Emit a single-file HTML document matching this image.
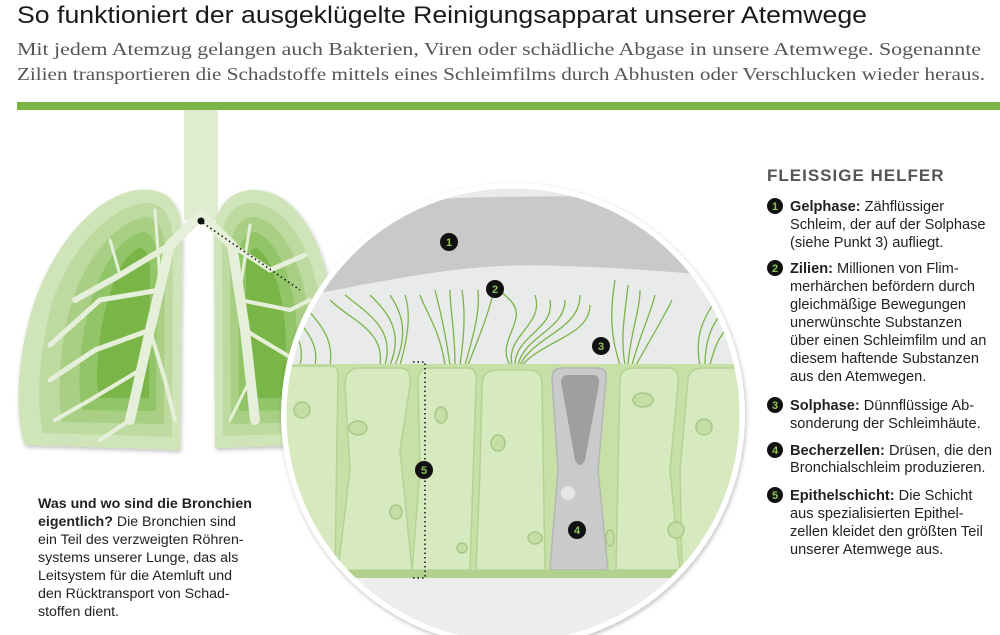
<!DOCTYPE html>
<html><head><meta charset="utf-8"><style>
html,body{margin:0;padding:0;background:#fff;}
svg{display:block;}
.s{font-family:"Liberation Sans",sans-serif;}
.b{font-weight:bold;}
</style></head><body>
<svg width="1000" height="635" viewBox="0 0 1000 635" xmlns="http://www.w3.org/2000/svg">
<defs>
<clipPath id="cc"><circle cx="513" cy="415" r="227"/></clipPath>
<filter id="sh" x="-10%" y="-10%" width="120%" height="120%"><feDropShadow dx="1" dy="2" stdDeviation="2" flood-opacity="0.25"/></filter>
</defs>
<!-- header -->
<text x="17" y="23" class="s" font-size="24" fill="#1a1a1a" textLength="850" lengthAdjust="spacingAndGlyphs">So funktioniert der ausgeklügelte Reinigungsapparat unserer Atemwege</text>
<text x="17" y="55" font-family="Liberation Serif,serif" font-size="18" fill="#555" textLength="964" lengthAdjust="spacingAndGlyphs">Mit jedem Atemzug gelangen auch Bakterien, Viren oder schädliche Abgase in unsere Atemwege. Sogenannte</text>
<text x="17" y="80" font-family="Liberation Serif,serif" font-size="18" fill="#555" textLength="968" lengthAdjust="spacingAndGlyphs">Zilien transportieren die Schadstoffe mittels eines Schleimfilms durch Abhusten oder Verschlucken wieder heraus.</text>
<rect x="17" y="102" width="983" height="8" fill="#7bb545"/>

<!-- lungs -->
<rect x="184" y="110" width="34" height="110" fill="#dfeccf"/>
<g filter="url(#sh)">
<path d="M150,190 C110,185 60,230 35,300 C15,360 15,420 25,445 L180,450 L182,240 C182,205 170,192 150,190Z" fill="#d0e4b9"/>
<path d="M148,203 C115,203 72,243 52,303 C37,358 37,410 43,433 L172,437 L173,245 C173,214 162,204 148,203Z" fill="#bddaa0"/>
<path d="M146,217 C118,220 85,256 70,308 C58,356 58,400 62,422 L164,424 L165,253 C165,229 157,218 146,217Z" fill="#a8cf84"/>
<path d="M143,232 C120,236 98,270 87,316 C78,356 78,392 82,410 L156,411 L157,262 C157,243 152,233 143,232Z" fill="#92c467"/>
<path d="M140,248 C122,254 110,285 102,325 C96,360 96,385 99,398 L149,398 L150,272 C150,256 146,249 140,248Z" fill="#7ab546"/>
<path d="M255,190 C290,190 320,230 330,290 C335,350 330,420 325,445 L215,448 L214,240 C214,205 230,190 255,190Z" fill="#d0e4b9"/>
<path d="M255,203 C284,206 311,243 319,298 C323,353 319,412 315,433 L223,436 L222,245 C222,214 234,203 255,203Z" fill="#bddaa0"/>
<path d="M255,217 C279,221 301,257 307,306 C310,356 307,400 304,422 L231,424 L230,253 C230,229 240,217 255,217Z" fill="#a8cf84"/>
<path d="M255,232 C273,237 292,272 296,316 C298,358 296,392 294,410 L239,411 L238,262 C238,243 245,233 255,232Z" fill="#92c467"/>
<path d="M256,248 C268,254 282,285 285,325 C287,360 285,385 283,398 L246,398 L246,272 C246,257 250,249 256,248Z" fill="#7ab546"/>
</g>
<g stroke="#e6efd9" fill="none" stroke-linecap="round">
<path d="M201,215 L170,245 L150,330 L130,420" stroke-width="10"/>
<path d="M201,215 L232,245 L245,330 L255,420" stroke-width="10"/>
<path d="M170,245 L120,275 L75,300" stroke-width="6"/>
<path d="M160,290 L100,300 L50,345" stroke-width="5"/>
<path d="M150,330 L95,350 L50,380" stroke-width="5"/>
<path d="M140,370 L90,400 L55,420" stroke-width="4"/>
<path d="M130,420 L100,440" stroke-width="4"/>
<path d="M150,330 L165,380 L175,420" stroke-width="4"/>
<path d="M160,280 L155,210" stroke-width="3"/>
<path d="M120,275 L110,240" stroke-width="3"/>
<path d="M232,245 L270,270 L305,255" stroke-width="5"/>
<path d="M240,300 L290,310 L310,300" stroke-width="4"/>
<path d="M245,330 L295,360" stroke-width="4"/>
<path d="M250,380 L230,420" stroke-width="3"/>
<path d="M240,290 L250,225" stroke-width="3"/>
</g>
<circle cx="201" cy="221" r="3.5" fill="#111"/>
<path d="M203,223 L300,290" stroke="#111" stroke-width="1.5" stroke-dasharray="1.5 3"/>

<!-- circle -->
<circle cx="513" cy="415" r="232" fill="#fff" filter="url(#sh)"/>
<g clip-path="url(#cc)">
<rect x="280" y="180" width="470" height="460" fill="#e9eaea"/>
<path d="M280,300 L280,250 C310,245 335,240 355,232 C375,220 390,205 420,200 C500,195 600,196 750,198 L750,278 C700,275 640,268 560,266 C480,262 420,275 360,285 C330,292 300,295 280,300Z" fill="#c8c9c9"/>
<g stroke="#7bb545" stroke-width="1.3" fill="none">
<path d="M300,365 C305,345 295,330 285,320"/><path d="M315,365 C320,340 300,325 290,310"/><path d="M330,365 C335,335 315,320 300,300"/>
<path d="M380,365 C385,330 350,320 330,300"/><path d="M385,365 C395,330 370,315 345,295"/><path d="M390,365 C405,330 385,310 370,295"/>
<path d="M395,365 C410,330 400,310 390,295"/><path d="M400,365 C410,330 410,310 405,295"/>
<path d="M445,365 C440,330 425,310 420,295"/><path d="M450,365 C445,330 440,310 435,290"/><path d="M455,365 C455,330 450,310 450,290"/>
<path d="M460,365 C465,330 465,310 462,290"/><path d="M465,365 C475,330 480,310 478,290"/><path d="M468,365 C480,335 490,310 495,285"/>
<path d="M510,365 C495,340 530,320 510,300 C500,290 495,288 490,288"/>
<path d="M512,365 C505,335 545,325 535,295"/><path d="M515,365 C515,335 555,330 550,300"/><path d="M518,365 C525,335 565,330 565,300"/>
<path d="M520,365 C535,335 580,330 580,295"/><path d="M522,365 C545,340 590,335 590,305"/>
<path d="M620,365 C610,335 610,310 615,280"/><path d="M625,365 C620,335 625,315 628,285"/><path d="M628,365 C630,335 640,310 640,290"/>
<path d="M632,365 C640,335 650,315 655,295"/><path d="M636,365 C650,340 665,315 672,300"/>
<path d="M700,365 C695,340 700,320 720,295"/><path d="M705,365 C705,340 712,320 730,305"/><path d="M710,365 C715,345 720,330 740,320"/>
</g>
<rect x="280" y="364" width="470" height="214" fill="#c7e0a8"/>
<g fill="#d6e9bf" stroke="#b6d294" stroke-width="1.5">
<path d="M283,372 Q283,366 290,366 L330,366 Q338,366 338,374 L335,570 L283,570Z"/>
<path d="M345,385 Q345,368 360,368 L400,368 Q412,368 410,385 L400,450 L412,570 L338,570 L350,470Z"/>
<path d="M418,380 Q418,368 430,368 L468,368 Q478,368 476,385 L470,570 L412,570 L420,470Z"/>
<path d="M482,385 Q482,370 498,370 L530,370 Q542,370 542,385 L545,570 L476,570 L480,470Z"/>
<path d="M620,380 Q620,368 635,368 L668,368 Q680,368 678,385 L670,470 L680,570 L616,570 L618,470Z"/>
<path d="M688,380 Q688,368 705,368 L745,368 L745,570 L682,570 L680,470Z"/>
</g>
<path d="M552,378 Q552,368 562,368 L598,368 Q608,368 606,380 L598,470 L608,570 L550,570 L558,470Z" fill="#c9caca" stroke="#b5b6b6" stroke-width="1.5"/>
<path d="M561,382 Q561,375 568,375 L593,375 Q600,375 599,384 L585,460 Q580,470 575,460Z" fill="#9e9f9f"/>
<circle cx="568" cy="493" r="7" fill="#e6e6e6"/>
<g fill="#c5dea5" stroke="#a8c886" stroke-width="1.5">
<ellipse cx="302" cy="410" rx="8" ry="8"/><ellipse cx="358" cy="428" rx="9" ry="7"/>
<ellipse cx="441" cy="415" rx="6" ry="8"/><ellipse cx="498" cy="443" rx="7" ry="8"/>
<ellipse cx="643" cy="400" rx="10" ry="7"/><ellipse cx="704" cy="427" rx="8" ry="8"/>
<ellipse cx="396" cy="512" rx="6" ry="7"/><ellipse cx="462" cy="548" rx="5" ry="5"/>
<ellipse cx="535" cy="538" rx="7" ry="6"/><ellipse cx="676" cy="530" rx="8" ry="8"/>
<ellipse cx="610" cy="538" rx="4" ry="8"/>
</g>
<rect x="280" y="570" width="470" height="8" fill="#b3d18e"/>
<rect x="280" y="578" width="470" height="70" fill="#ededed"/>
</g>
<circle cx="513" cy="415" r="229" fill="none" stroke="#fff" stroke-width="5"/>
<path d="M413,362 L425,362 L425,578 M413,578 L425,578" stroke="#111" stroke-width="1.5" fill="none" stroke-dasharray="1.5 3"/>

<!-- badges in circle -->
<g class="s b" font-size="11" text-anchor="middle">
<circle cx="449" cy="242" r="9" fill="#111"/><text x="449" y="246" fill="#8cc35a">1</text>
<circle cx="495" cy="289" r="9" fill="#111"/><text x="495" y="293" fill="#8cc35a">2</text>
<circle cx="601" cy="346" r="9" fill="#111"/><text x="601" y="350" fill="#8cc35a">3</text>
<circle cx="577" cy="530" r="9" fill="#111"/><text x="577" y="534" fill="#8cc35a">4</text>
<circle cx="424" cy="470" r="9" fill="#111"/><text x="424" y="474" fill="#8cc35a">5</text>
</g>

<!-- right column -->
<text x="767" y="181" class="s b" font-size="17" fill="#555" letter-spacing="1">FLEISSIGE HELFER</text>
<g class="s b" font-size="11" text-anchor="middle">
<circle cx="775" cy="206" r="8" fill="#111"/><text x="775" y="210" fill="#8cc35a">1</text>
<circle cx="775" cy="268" r="8" fill="#111"/><text x="775" y="272" fill="#8cc35a">2</text>
<circle cx="775" cy="405" r="8" fill="#111"/><text x="775" y="409" fill="#8cc35a">3</text>
<circle cx="775" cy="450" r="8" fill="#111"/><text x="775" y="454" fill="#8cc35a">4</text>
<circle cx="775" cy="495" r="8" fill="#111"/><text x="775" y="499" fill="#8cc35a">5</text>
</g>
<g class="s" font-size="14.6" fill="#222">
<text x="790" y="211"><tspan class="b">Gelphase:</tspan> Zähflüssiger</text>
<text x="790" y="229">Schleim, der auf der Solphase</text>
<text x="790" y="247">(siehe Punkt 3) aufliegt.</text>
<text x="790" y="273"><tspan class="b">Zilien:</tspan> Millionen von Flim-</text>
<text x="790" y="291">merhärchen befördern durch</text>
<text x="790" y="309">gleichmäßige Bewegungen</text>
<text x="790" y="327">unerwünschte Substanzen</text>
<text x="790" y="345">über einen Schleimfilm und an</text>
<text x="790" y="363">diesem haftende Substanzen</text>
<text x="790" y="381">aus den Atemwegen.</text>
<text x="790" y="410"><tspan class="b">Solphase:</tspan> Dünnflüssige Ab-</text>
<text x="790" y="428">sonderung der Schleimhäute.</text>
<text x="790" y="455"><tspan class="b">Becherzellen:</tspan> Drüsen, die den</text>
<text x="790" y="472">Bronchialschleim produzieren.</text>
<text x="790" y="500"><tspan class="b">Epithelschicht:</tspan> Die Schicht</text>
<text x="790" y="518">aus spezialisierten Epithel-</text>
<text x="790" y="536">zellen kleidet den größten Teil</text>
<text x="790" y="554">unserer Atemwege aus.</text>
</g>
<!-- bottom-left -->
<g class="s" font-size="14.2" fill="#222">
<text x="38" y="508" class="b">Was und wo sind die Bronchien</text>
<text x="38" y="526"><tspan class="b">eigentlich?</tspan> Die Bronchien sind</text>
<text x="38" y="544">ein Teil des verzweigten Röhren-</text>
<text x="38" y="562">systems unserer Lunge, das als</text>
<text x="38" y="580">Leitsystem für die Atemluft und</text>
<text x="38" y="598">den Rücktransport von Schad-</text>
<text x="38" y="616">stoffen dient.</text>
</g>
</svg>
</body></html>
